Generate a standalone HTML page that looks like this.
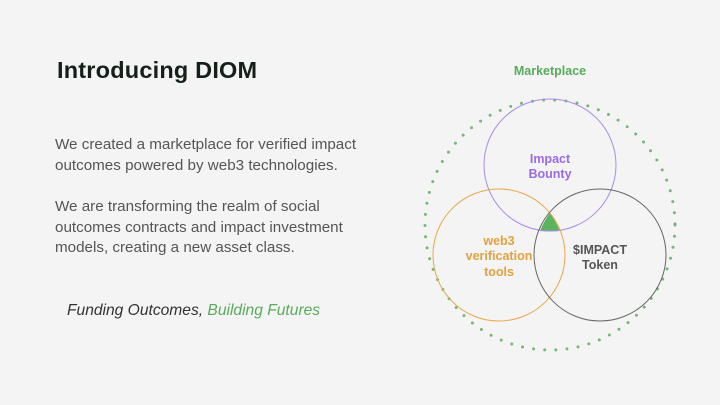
<!DOCTYPE html>
<html><head><style>
body{margin:0;width:720px;height:405px;background:#f3f4f3;overflow:hidden;position:relative;font-family:"Liberation Sans",sans-serif}
.t{position:absolute;left:57px;top:57px;font-size:23.5px;font-weight:bold;color:#15201a;letter-spacing:0.2px}
.p{position:absolute;left:55px;font-size:15.2px;line-height:20.6px;color:#555}
.q{position:absolute;left:67px;top:302px;font-size:15.6px;font-style:italic;color:#333}
</style></head><body>
<div class="t">Introducing DIOM</div>
<div class="p" style="top:135px">We created a marketplace for verified impact<br>outcomes powered by web3 technologies.</div>
<div class="p" style="top:197px">We are transforming the realm of social<br>outcomes contracts and impact investment<br>models, creating a new asset class.</div>
<div class="q">Funding Outcomes, <span style="color:#5aaa5c">Building Futures</span></div>
<svg width="720" height="405" style="position:absolute;left:0;top:0" font-family="Liberation Sans,sans-serif" font-weight="bold" font-size="12.5" text-anchor="middle">
<text x="550" y="75" fill="#5aaa5c">Marketplace</text>
<circle cx="550" cy="225" r="125" fill="none" stroke="#74b874" stroke-width="3" stroke-linecap="round" stroke-dasharray="0 11.2"/>
<path d="M550,213 Q556,222 560,231 Q550,232 540,231 Q544,221 550,213Z" fill="#5bb35e"/>
<circle cx="550" cy="165" r="66" fill="none" stroke="#a98be8" stroke-width="1"/>
<circle cx="499" cy="255" r="66" fill="none" stroke="#e9a84a" stroke-width="1"/>
<circle cx="600" cy="255" r="66" fill="none" stroke="#666" stroke-width="1"/>
<text fill="#9b6be6"><tspan x="550" y="163">Impact</tspan><tspan x="550" y="178">Bounty</tspan></text>
<text fill="#e4a03f"><tspan x="499" y="245">web3</tspan><tspan x="499" y="260">verification</tspan><tspan x="499" y="276">tools</tspan></text>
<text fill="#555"><tspan x="600" y="254">$IMPACT</tspan><tspan x="600" y="269">Token</tspan></text>
</svg>
</body></html>
